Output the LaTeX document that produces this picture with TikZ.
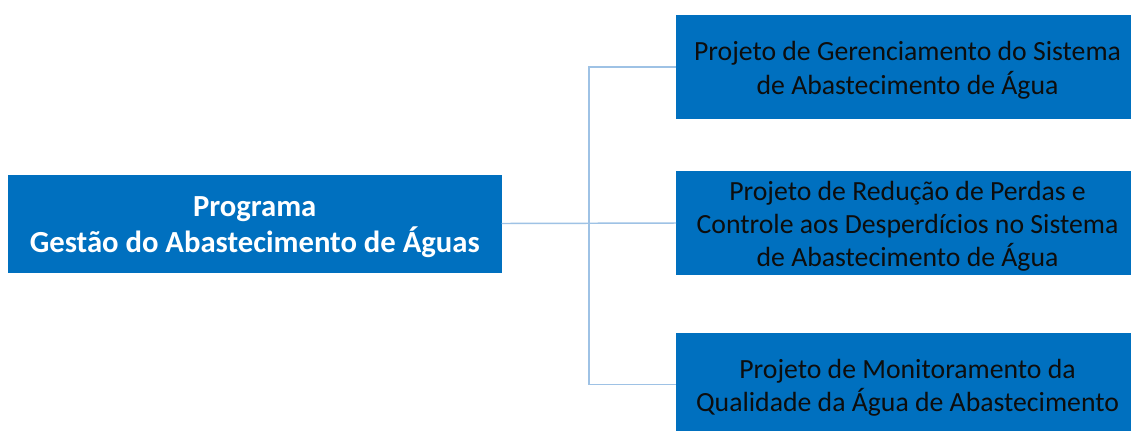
\documentclass[tikz,border=0pt]{standalone}
\usepackage{fontspec}
\setmainfont{Carlito}
\usepackage{tikz}

% lines of a box, set a little lower (and right) than the box centre
\newcommand{\boxLines}[2]{\raisebox{-2.8pt}[\height][\depth]{%
  \begin{tabular}{@{\hspace{#1}}c@{}}#2\end{tabular}}}

\begin{document}
\begin{tikzpicture}[x=0.75pt,y=-0.75pt,
  boxColor/.style={fill=fillColor,draw=none,inner sep=0pt,outer sep=0pt},
  projBox/.style={boxColor,minimum width=455*0.75pt,minimum height=104*0.75pt,
    text=textColor,font=\fontsize{20.8}{25}\selectfont},
  linkColor/.style={draw=drawColor,line width=1.1pt}]
\definecolor[named]{fillColor}{rgb}{0.00,0.44,0.75}
\definecolor[named]{drawColor}{rgb}{0.62,0.76,0.90}
\definecolor[named]{textColor}{rgb}{0.05,0.05,0.05}
\path[use as bounding box,fill=white] (0,0) rectangle (1131,430);

\node[boxColor,minimum width=493.5*0.75pt,minimum height=98*0.75pt,text=white,
  font=\fontsize{23}{26.3}\selectfont\bfseries] (prog) at (254.75,223.5)
  {\boxLines{0pt}{Programa\\Gestão do Abastecimento de Águas}};

\node[projBox] (projA) at (903.5,67)
  {\boxLines{6pt}{Projeto de Gerenciamento do Sistema\\de Abastecimento de Água}};

\node[projBox] (projB) at (903.5,223)
  {\boxLines{6pt}{Projeto de Redução de Perdas e\\Controle aos Desperdícios no Sistema\\de Abastecimento de Água}};

\node[projBox] (projC) at (903.5,384.5)
  {\boxLines{6pt}{Projeto de Monitoramento da\\Qualidade da Água de Abastecimento}};

\coordinate (bus) at (589,223);

\path[linkColor] (prog.east) -- (projB.west);
\path[linkColor] (projA.west) -| (bus) |- (projC.west);
\end{tikzpicture}
\end{document}
